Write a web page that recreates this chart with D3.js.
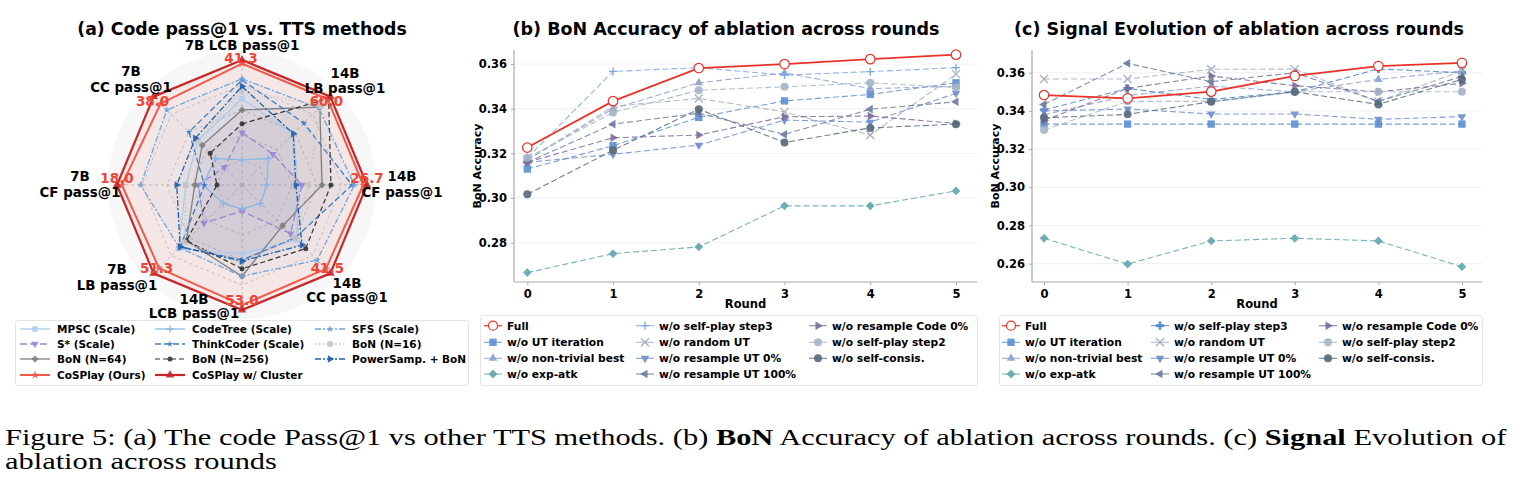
<!DOCTYPE html>
<html>
<head>
<meta charset="utf-8">
<script src="https://cdn.jsdelivr.net/npm/d3@7"></script>
<style>
  body { margin: 0; background: #fff; }
  text { font-family: "DejaVu Sans", sans-serif; font-weight: bold; }
  .cap { font-family: "Liberation Serif", "Times New Roman", serif; font-weight: normal; }
</style>
</head>
<body>
<svg id="fig" width="1522" height="492"></svg>
<script>
// ---------- (a) radar data ----------
const radarAxes = ["7B LCB pass@1", "14B LB pass@1", "14B CF pass@1", "14B CC pass@1",
                   "14B LCB pass@1", "7B LB pass@1", "7B CF pass@1", "7B CC pass@1"];
const radarMethods = ["MPSC (Scale)", "S* (Scale)", "BoN (N=64)", "CoSPlay (Ours)",
                      "CodeTree (Scale)", "ThinkCoder (Scale)", "BoN (N=256)", "CoSPlay w/ Cluster",
                      "SFS (Scale)", "BoN (N=16)", "PowerSamp. + BoN"];
const mpsc       = [28.5, 34.8, 12.0, 25.7, 29.2, 36.9, 8.1, 19.0];
const sStar      = [17.3, 21.0, 12.8, 22.8, 11.1, 22.1, 6.3, 7.6];
const bon64      = [24.8, 52.8, 17.1, 19.1, 38.7, 32.3, 6.8, 17.1];
const cosplay    = [40.1, 58.2, 25.9, 39.4, 50.9, 48.2, 17.3, 35.0];
const codeTree   = [8.3, 18.0, 5.3, 8.7, 10.1, 10.8, 5.6, 11.4];
const thinkCoder = [34.7, 42.0, 23.5, 24.9, 31.8, 35.9, 5.4, 22.8];
const bon256     = [20.2, 58.8, 19.0, 29.9, 35.5, 32.3, 3.6, 13.7];
const cluster    = [41.3, 60.0, 26.7, 41.5, 53.0, 51.3, 18.0, 38.0];
const sfs        = [35.1, 52.2, 24.0, 35.3, 38.7, 36.4, 14.6, 32.3];
const bon16      = [31.4, 53.4, 14.2, 24.9, 32.9, 33.3, 8.1, 19.0];
const powerSamp  = [32.6, 34.8, 11.5, 28.2, 32.3, 35.9, 9.4, 20.1];
const radarValues = [mpsc, sStar, bon64, cosplay, codeTree, thinkCoder, bon256, cluster, sfs, bon16, powerSamp];

// ---------- (b)/(c) ablation data ----------
const rounds = [0, 1, 2, 3, 4, 5];
const ablationNames = ["Full", "w/o UT iteration", "w/o non-trivial best", "w/o exp-atk",
                       "w/o self-play step3", "w/o random UT", "w/o resample UT 0%", "w/o resample UT 100%",
                       "w/o resample Code 0%", "w/o self-play step2", "w/o self-consis."];
const bonAccuracy = [
  [0.3226, 0.3434, 0.3582, 0.3600, 0.3622, 0.3642],
  [0.3130, 0.3234, 0.3361, 0.3435, 0.3464, 0.3516],
  [0.3170, 0.3400, 0.3516, 0.3560, 0.3490, 0.3500],
  [0.2666, 0.2751, 0.2781, 0.2965, 0.2965, 0.3032],
  [0.3180, 0.3567, 0.3584, 0.3551, 0.3566, 0.3584],
  [0.3170, 0.3410, 0.3446, 0.3386, 0.3282, 0.3555],
  [0.3160, 0.3196, 0.3237, 0.3349, 0.3340, 0.3469],
  [0.3160, 0.3331, 0.3380, 0.3285, 0.3398, 0.3431],
  [0.3160, 0.3270, 0.3282, 0.3364, 0.3367, 0.3334],
  [0.3180, 0.3383, 0.3483, 0.3498, 0.3516, 0.3495],
  [0.3017, 0.3214, 0.3398, 0.3249, 0.3314, 0.3331]
];
const signalEvolution = [
  [0.3483, 0.3466, 0.3501, 0.3583, 0.3635, 0.3652],
  [0.3331, 0.3331, 0.3331, 0.3331, 0.3331, 0.3331],
  [0.3380, 0.3480, 0.3530, 0.3500, 0.3565, 0.3610],
  [0.2733, 0.2598, 0.2719, 0.2733, 0.2719, 0.2584],
  [0.3405, 0.3518, 0.3460, 0.3500, 0.3620, 0.3600],
  [0.3567, 0.3567, 0.3618, 0.3619, 0.3450, 0.3610],
  [0.3400, 0.3410, 0.3384, 0.3384, 0.3356, 0.3370],
  [0.3434, 0.3649, 0.3553, 0.3600, 0.3450, 0.3580],
  [0.3350, 0.3518, 0.3583, 0.3532, 0.3500, 0.3545],
  [0.3300, 0.3450, 0.3450, 0.3500, 0.3500, 0.3500],
  [0.3364, 0.3382, 0.3448, 0.3500, 0.3434, 0.3565]
];
const bonTicks = [0.28, 0.30, 0.32, 0.34, 0.36];
const signalTicks = [0.26, 0.28, 0.30, 0.32, 0.34, 0.36];

// ---------- styles ----------
const radarStyles = [
  { color: "#aecbec", marker: "square",   dash: null,      w: 1.3, s: 6 },
  { color: "#9a86d6", marker: "triDown",  dash: "7,3",     w: 1.3, s: 7 },
  { color: "#7f7f7f", marker: "diamond",  dash: null,      w: 1.3, s: 6.5 },
  { color: "#f05a4a", marker: "star",     dash: null,      w: 2.0, s: 7 },
  { color: "#8cb6e6", marker: "plus",     dash: null,      w: 1.3, s: 7 },
  { color: "#3b7cc4", marker: "star",     dash: "6,3",     w: 1.3, s: 5.5 },
  { color: "#333333", marker: "circle",   dash: "5,3",     w: 1.2, s: 5 },
  { color: "#c62828", marker: "triUp",    dash: null,      w: 2.2, s: 8 },
  { color: "#6fa3dc", marker: "star",     dash: "6,2,2,2", w: 1.3, s: 6 },
  { color: "#c4c4c4", marker: "circle",   dash: "1.5,2.5", w: 1.3, s: 6 },
  { color: "#2160aa", marker: "triRight", dash: "6,2,2,2", w: 1.3, s: 7 }
];
const ablStyles = [
  { color: "#e8332a", marker: "circle",  open: true },
  { color: "#5b8fd0", marker: "square" },
  { color: "#8fa0cc", marker: "triUp" },
  { color: "#5fa6ad", marker: "diamond" },
  { color: "#7ea6e0", marker: "plus" },
  { color: "#a6aec0", marker: "x" },
  { color: "#6f8ccf", marker: "triDown" },
  { color: "#6a7b9b", marker: "triLeft" },
  { color: "#7a6a9a", marker: "triRight" },
  { color: "#a3b5c6", marker: "circle" },
  { color: "#55697a", marker: "circle" }
];

const svg = d3.select("#fig");

// ---------- markers ----------
const rotation = { diamond: 45, triDown: 180, triLeft: -90, triRight: 90 };
function markerPath(type, s) {
  const r = s / 2;
  if (type === "plus") return `M${-r},0H${r}M0,${-r}V${r}`;
  if (type === "x") return `M${-r},${-r}L${r},${r}M${-r},${r}L${r},${-r}`;
  if (type === "circle") return d3.symbol(d3.symbolCircle, Math.PI * r * r)();
  if (type === "square") return d3.symbol(d3.symbolSquare, s * s * 0.85)();
  if (type === "diamond") return d3.symbol(d3.symbolSquare, s * s * 0.6)();
  if (type === "star") return d3.symbol(d3.symbolStar, s * s * 0.45)();
  if (type === "P") return d3.symbol(d3.symbolCross, s * s * 0.6)();
  return d3.symbol(d3.symbolTriangle, s * s * 0.5)();
}
function drawMarker(g, type, x, y, s, color, open) {
  const stroked = type === "plus" || type === "x";
  g.append("path")
    .attr("d", markerPath(type, s))
    .attr("transform", `translate(${x},${y}) rotate(${rotation[type] || 0})`)
    .attr("fill", stroked ? "none" : (open ? "#fff" : color))
    .attr("fill-opacity", open ? 1 : 0.9)
    .attr("stroke", stroked || open ? color : "none")
    .attr("stroke-width", stroked ? 1.3 : 1.2);
}

// ---------- (a) radar ----------
(function radar() {
  const cx = 242, cy = 185, R = 125, n = radarAxes.length;
  const g = svg.append("g");
  const ang = i => -Math.PI / 2 + i * 2 * Math.PI / n;
  const scales = cluster.map(m => d3.scaleLinear().domain([0, m]).range([0, R]));
  const pt = (i, r) => [cx + r * Math.cos(ang(i)), cy + r * Math.sin(ang(i))];

  g.append("text").attr("x", 242).attr("y", 35).attr("text-anchor", "middle")
    .attr("font-size", 17.3).text("(a) Code pass@1 vs. TTS methods");

  g.append("circle").attr("cx", cx).attr("cy", cy).attr("r", 134).attr("fill", "#f7f7f7");

  // grid
  const line = d3.line().curve(d3.curveLinearClosed);
  [0.2, 0.4, 0.6, 0.8, 1.0].forEach(f => {
    g.append("path").attr("d", line(d3.range(n).map(i => pt(i, R * f))))
      .attr("fill", "none").attr("stroke", "#bdbdbd").attr("stroke-width", 0.8)
      .attr("stroke-dasharray", "3,3");
  });
  d3.range(n).forEach(i => {
    const [x, y] = pt(i, R);
    g.append("line").attr("x1", cx).attr("y1", cy).attr("x2", x).attr("y2", y)
      .attr("stroke", "#b5b5b5").attr("stroke-width", 0.8).attr("stroke-dasharray", "3,3");
  });

  const polys = radarValues.map(vals => vals.map((v, i) => pt(i, scales[i](v))));
  // fills
  polys.forEach((p, k) => {
    g.append("path").attr("d", line(p)).attr("fill", radarStyles[k].color)
      .attr("fill-opacity", k === 7 ? 0.06 : (k === 3 ? 0.02 : 0.035)).attr("stroke", "none");
  });
  // lines, red ones last
  const order = [0, 1, 2, 4, 5, 6, 8, 9, 10, 3, 7];
  order.forEach(k => {
    const st = radarStyles[k];
    g.append("path").attr("d", line(polys[k])).attr("fill", "none")
      .attr("stroke", st.color).attr("stroke-width", st.w)
      .attr("stroke-dasharray", st.dash).attr("stroke-linejoin", "round");
    polys[k].forEach(([x, y]) => drawMarker(g, st.marker, x, y, st.s, st.color));
  });

  // axis labels
  const labelPos = [
    [242, [50]], [345, [78, 93]], [402, [181, 197]], [347, [288, 302]],
    [194, [304, 318]], [117, [274, 290]], [80, [181, 197]], [131, [76, 92]]
  ];
  radarAxes.forEach((name, i) => {
    const parts = i === 0 ? [name] : [name.split(" ")[0], name.split(" ").slice(1).join(" ")];
    parts.forEach((t, j) => {
      g.append("text").attr("x", labelPos[i][0]).attr("y", labelPos[i][1][j])
        .attr("text-anchor", "middle").attr("font-size", 13.4).attr("fill", "#000").text(t);
    });
  });
  // value labels, offset from each outer vertex
  const valueOffset = [[-1, 3], [-4, 9], [0, -2], [-3, 0], [0, -5], [3, 0], [0, -2], [-1, 9]];
  cluster.forEach((v, i) => {
    const [x, y] = pt(i, R);
    g.append("text").attr("x", x + valueOffset[i][0]).attr("y", y + valueOffset[i][1])
      .attr("text-anchor", "middle").attr("font-size", 13.5).attr("fill", "#ee4636").text(v.toFixed(1));
  });

  // legend
  const lg = g.append("g");
  lg.append("rect").attr("x", 15.5).attr("y", 320.5).attr("width", 453).attr("height", 65)
    .attr("rx", 3).attr("fill", "#fff").attr("stroke", "#e4e4e4");
  const colX = [20, 155, 315], rowY = [329, 344, 359, 375];
  radarMethods.forEach((name, k) => {
    const c = Math.floor(k / 4), r = k % 4, st = radarStyles[k];
    const x0 = colX[c], y0 = rowY[r];
    lg.append("line").attr("x1", x0).attr("x2", x0 + 30).attr("y1", y0).attr("y2", y0)
      .attr("stroke", st.color).attr("stroke-width", st.w).attr("stroke-dasharray", st.dash);
    drawMarker(lg, st.marker, x0 + 15, y0, st.s, st.color);
    lg.append("text").attr("x", x0 + 37).attr("y", y0 + 4).attr("font-size", 10.5).text(name);
  });
})();

// ---------- (b)/(c) line panels ----------
function linePanel(o) {
  const g = svg.append("g");
  const x = d3.scaleLinear().domain(o.xDom).range([o.left, o.right]);
  const y = d3.scaleLinear().domain(o.yDom).range([o.bottom, o.top]);

  g.append("text").attr("x", o.titleX).attr("y", 35).attr("text-anchor", "middle")
    .attr("font-size", 17.5).text(o.title);

  g.selectAll(null).data(o.yTicks).join("line")
    .attr("x1", o.left).attr("x2", o.right).attr("y1", d => y(d)).attr("y2", d => y(d))
    .attr("stroke", "#ececec").attr("stroke-width", 0.8);

  const ya = g.append("g").attr("transform", `translate(${o.left},0)`)
    .call(d3.axisLeft(y).tickValues(o.yTicks).tickFormat(d3.format(".2f")).tickSizeOuter(0).tickSizeInner(3).tickPadding(4));
  const xa = g.append("g").attr("transform", `translate(0,${o.bottom})`)
    .call(d3.axisBottom(x).tickValues(rounds).tickFormat(d3.format("d")).tickSizeOuter(0).tickSizeInner(3).tickPadding(5));
  [ya, xa].forEach(a => {
    a.select(".domain").attr("stroke", "#aaaaaa").attr("stroke-width", 1.2);
    a.selectAll(".tick line").attr("stroke", "#aaaaaa");
    a.selectAll(".tick text").attr("font-size", 11.5).attr("font-family", "DejaVu Sans")
      .attr("font-weight", "bold").attr("fill", "#000");
  });
  ya.select(".domain").attr("d", `M0,${o.top}V${o.bottom}`);
  xa.select(".domain").attr("d", `M${o.left},0H${o.right}`);

  g.append("text").attr("transform", `translate(${o.ylabX},166) rotate(-90)`)
    .attr("text-anchor", "middle").attr("font-size", 11).text("BoN Accuracy");
  g.append("text").attr("x", (o.left + o.right) / 2).attr("y", 308)
    .attr("text-anchor", "middle").attr("font-size", 11.5).text("Round");

  const line = d3.line().x((d, i) => x(rounds[i])).y(d => y(d));
  const order = d3.range(1, o.values.length).concat([0]);
  order.forEach(k => {
    const st = o.styles[k], full = k === 0;
    g.append("path").attr("d", line(o.values[k])).attr("fill", "none")
      .attr("stroke", st.color).attr("stroke-opacity", full ? 1 : 0.85)
      .attr("stroke-width", full ? 1.8 : 1.1)
      .attr("stroke-dasharray", full ? null : "6,3");
    o.values[k].forEach((v, i) => drawMarker(g, st.marker, x(rounds[i]), y(v), full ? 9.5 : 8, st.color, st.open));
  });

  // legend
  const lg = g.append("g");
  lg.append("rect").attr("x", o.lgX + 0.5).attr("y", 315.5).attr("width", o.lgW).attr("height", 70)
    .attr("rx", 3).attr("fill", "#fff").attr("stroke", "#e4e4e4");
  const rowY = [325.7, 342.3, 358.3, 374];
  ablationNames.forEach((name, k) => {
    const c = Math.floor(k / 4), r = k % 4, st = o.styles[k];
    const mx = o.lgCols[c], my = rowY[r];
    lg.append("line").attr("x1", mx - 9).attr("x2", mx + 9).attr("y1", my).attr("y2", my)
      .attr("stroke", st.color).attr("stroke-width", k === 0 ? 1.5 : 1.1).attr("stroke-opacity", 0.85);
    drawMarker(lg, st.marker, mx, my, k === 0 ? 9 : 8, st.color, st.open);
    lg.append("text").attr("x", mx + 14).attr("y", my + 4).attr("font-size", 10.7).text(name);
  });
}

linePanel({
  title: "(b) BoN Accuracy of ablation across rounds", titleX: 726,
  left: 514, right: 977, top: 50, bottom: 282, xDom: [-0.155, 5.245], yDom: [0.2624, 0.3663],
  yTicks: bonTicks, values: bonAccuracy, styles: ablStyles, ylabX: 481,
  lgX: 480, lgW: 497, lgCols: [493, 645, 818]
});
linePanel({
  title: "(c) Signal Evolution of ablation across rounds", titleX: 1239,
  left: 1032, right: 1482, top: 50, bottom: 282, xDom: [-0.144, 5.24], yDom: [0.2504, 0.3719],
  yTicks: signalTicks, values: signalEvolution,
  styles: ablStyles.map((s, k) => k === 4 ? { color: "#4a88c8", marker: "P" } : s),
  ylabX: 999, lgX: 999, lgW: 483, lgCols: [1011, 1160, 1328]
});

// ---------- caption: glyphs widened horizontally so line 1 spans the figure ----------
const capSize = 23;
const cap = svg.append("text").attr("class", "cap").attr("x", 0).attr("y", 0).attr("font-size", capSize);
const capParts = [["Figure 5: (a) The code Pass@1 vs other TTS methods. (b) ", false], ["BoN", true],
  [" Accuracy of ablation across rounds. (c) ", false], ["Signal", true], [" Evolution of", false]];
capParts.forEach(([t, b]) => cap.append("tspan").attr("font-weight", b ? "bold" : "normal").text(t));
const capScale = 1502 / cap.node().getComputedTextLength();
cap.attr("transform", `translate(5,445) scale(${capScale},1)`);
svg.append("text").attr("class", "cap").attr("font-size", capSize)
  .attr("transform", `translate(5,469) scale(${capScale},1)`).text("ablation across rounds");
</script>
</body>
</html>
